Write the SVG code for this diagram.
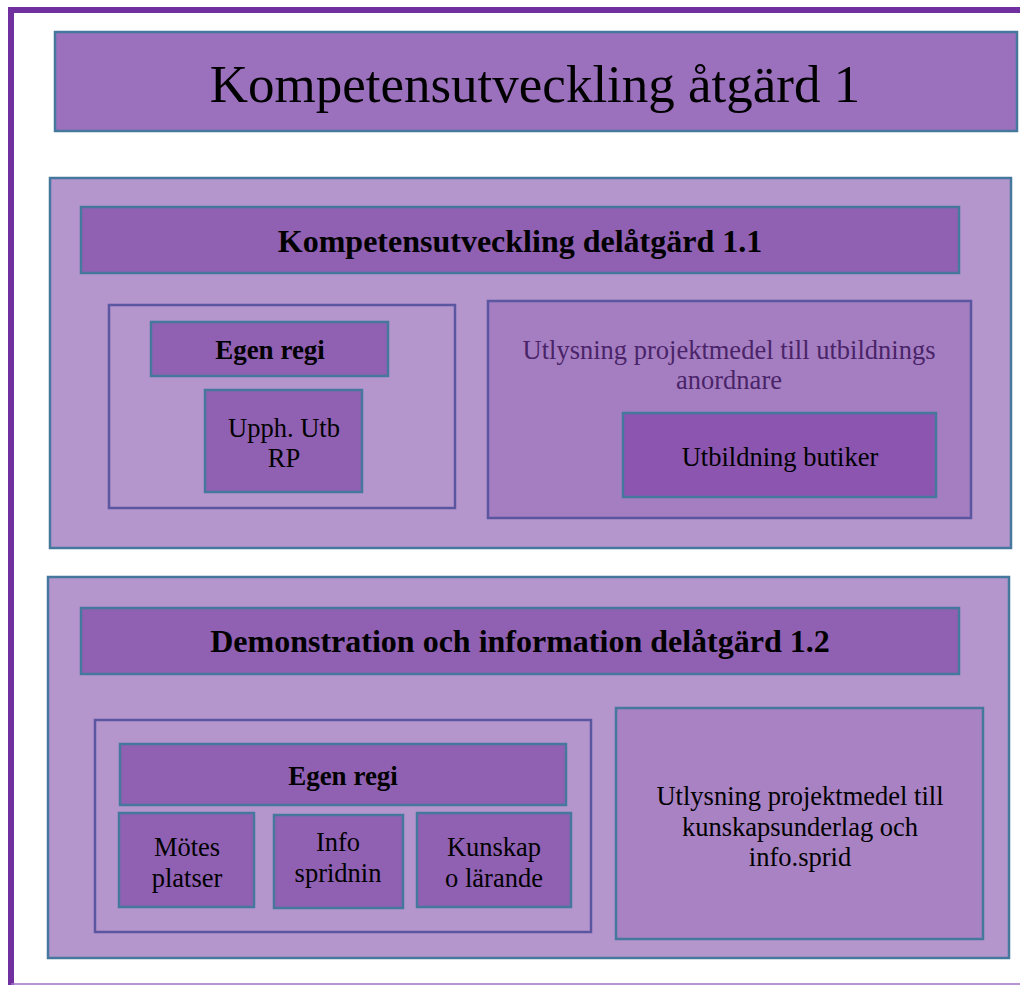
<svg xmlns="http://www.w3.org/2000/svg" width="1020" height="985" viewBox="0 0 1020 985">
<style>
text{font-family:"Liberation Serif","Times New Roman",serif;fill:#000;text-anchor:middle}
.title{font-size:53px}
.hdr{font-size:32px;font-weight:bold}
.b{font-size:27px;font-weight:bold}
.t{font-size:26.5px}
.s{stroke:#46789e;stroke-width:2.5}
.g{stroke:#5b56a0;stroke-width:2.5}
</style>
<rect width="1020" height="985" fill="#fff"/>
<g id="frame">
<path d="M11,985 V10 H1020" fill="none" stroke="#7030a0" stroke-width="6"/>
<line x1="11" y1="984" x2="1020" y2="984" stroke="#a070c8" stroke-width="1.5"/>
</g>
<g id="title">
<rect x="55" y="32" width="962" height="99" fill="#9b70bc" class="s"/>
<text x="535" y="102" class="title">Kompetensutveckling åtgärd 1</text>
</g>
<g id="section1">
<rect x="50" y="178" width="961" height="370" fill="#b496cd" class="s"/>
</g>
<g id="header11">
<rect x="81" y="207" width="878" height="66" fill="#9060b3" class="s"/>
<text x="520" y="252" class="hdr">Kompetensutveckling delåtgärd 1.1</text>
</g>
<g id="egen1box">
<rect x="109" y="305" width="346" height="203" fill="#b496cd" class="g"/>
</g>
<g id="egen1">
<rect x="151" y="322" width="237" height="54" fill="#9060b3" class="s"/>
<text x="270" y="359" class="b">Egen regi</text>
</g>
<g id="upph">
<rect x="205" y="390" width="157" height="102" fill="#9060b3" class="s"/>
<text x="284" y="437" class="t">Upph. Utb</text>
<text x="284" y="467" class="t">RP</text>
</g>
<g id="utlysning1">
<rect x="488" y="301" width="483" height="217" fill="#a57ec2" class="g"/>
<text x="729" y="359" class="t" style="fill:#4a2468">Utlysning projektmedel till utbildnings</text>
<text x="729" y="389" class="t" style="fill:#4a2468">anordnare</text>
</g>
<g id="butiker">
<rect x="623" y="413" width="313" height="84" fill="#8b55b0" class="s"/>
<text x="780" y="466" class="t">Utbildning butiker</text>
</g>
<g id="section2">
<rect x="48" y="577" width="961" height="381" fill="#b496cd" class="s"/>
</g>
<g id="header12">
<rect x="81" y="608" width="878" height="66" fill="#9060b3" class="s"/>
<text x="520" y="652" class="hdr">Demonstration och information delåtgärd 1.2</text>
</g>
<g id="egen2box">
<rect x="95" y="720" width="496" height="212" fill="#b496cd" class="g"/>
</g>
<g id="egen2">
<rect x="120" y="744" width="446" height="61" fill="#9060b3" class="s"/>
<text x="343" y="785" class="b">Egen regi</text>
</g>
<g id="motes">
<rect x="119" y="813" width="135" height="94" fill="#9060b3" class="s"/>
<text x="187" y="856" class="t">Mötes</text>
<text x="187" y="887" class="t">platser</text>
</g>
<g id="info">
<rect x="274" y="815" width="129" height="93" fill="#9060b3" class="s"/>
<text x="338" y="851" class="t">Info</text>
<text x="338" y="882" class="t">spridnin</text>
</g>
<g id="kunskap">
<rect x="417" y="813" width="154" height="94" fill="#9060b3" class="s"/>
<text x="494" y="856" class="t">Kunskap</text>
<text x="494" y="887" class="t">o lärande</text>
</g>
<g id="utlysning2">
<rect x="616" y="708" width="367" height="231" fill="#a882c3" class="s"/>
<text x="800" y="805" class="t">Utlysning projektmedel till</text>
<text x="800" y="836" class="t">kunskapsunderlag och</text>
<text x="800" y="866" class="t">info.sprid</text>
</g>
<g id="connectors"></g>
</svg>
